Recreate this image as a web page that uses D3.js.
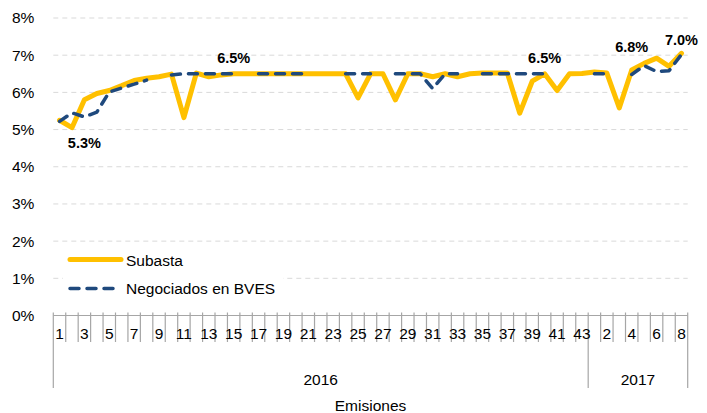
<!DOCTYPE html>
<html>
<head>
<meta charset="utf-8">
<script src="https://cdn.jsdelivr.net/npm/d3@7"></script>
<style>
  body { margin: 0; background: #fff; }
  text { font-family: "Liberation Sans", Arial, sans-serif; }
</style>
</head>
<body>
<svg width="707" height="413"></svg>
<script>
// categories: emission number within each year
const years = ['2016', '2017'];
const emisiones = [
  '1','2','3','4','5','6','7','8','9','10','11','12','13','14','15','16','17','18','19','20','21','22',
  '23','24','25','26','27','28','29','30','31','32','33','34','35','36','37','38','39','40','41','42','43',
  '1','2','3','4','5','6','7','8'
];
const yearOf = [
  0,0,0,0,0,0,0,0,0,0,0,0,0,0,0,0,0,0,0,0,0,0,0,0,0,0,0,0,0,0,0,0,0,0,0,0,0,0,0,0,0,0,0,
  1,1,1,1,1,1,1,1
];

// rates in %
const subasta = [
  5.25,5.05,5.8,5.97,6.05,6.18,6.32,6.38,6.42,6.49,
  5.32,6.52,6.42,6.47,6.5,6.5,6.5,6.5,6.5,6.5,
  6.5,6.5,6.5,6.5,5.85,6.5,6.5,5.8,6.5,6.5,
  6.42,6.5,6.42,6.5,6.52,6.52,6.52,5.44,6.3,6.5,
  6.05,6.5,6.51,6.55,6.52,5.58,6.6,6.78,6.92,6.7,
  7.05
];
const negociados = [
  5.22,5.45,5.34,5.47,6.01,6.12,6.22,6.33,null,6.47,
  6.5,6.5,6.5,6.5,6.5,null,6.5,6.5,6.5,6.5,
  6.5,null,null,6.5,6.5,6.5,null,6.5,6.5,6.5,
  6.1,6.5,6.5,null,6.5,6.5,6.5,6.5,6.5,6.5,
  null,null,null,6.5,6.5,null,6.48,6.72,6.56,6.58,
  7.02
];

// data labels: category index, value shown, above/below
const labelIdx = [2, 14, 39, 46, 50];
const labelVal = [5.3, 6.5, 6.5, 6.8, 7.0];
const labelPos = ['below', 'above', 'above', 'above', 'above'];

const yTicks = [0, 1, 2, 3, 4, 5, 6, 7, 8];

var svg = d3.select('svg');
var plotLeft = 53.3, plotRight = 687.7, plotTop = 18, plotBottom = 315.5;

var x = d3.scaleBand()
  .domain(d3.range(emisiones.length))
  .range([plotLeft, plotRight]);

var y = d3.scaleLinear()
  .domain([0, 8])
  .range([plotBottom, plotTop]);

var cx = function(i) { return x(i) + x.bandwidth() / 2; };

// gridlines
svg.append('g')
  .selectAll('line')
  .data(yTicks.filter(function(d) { return d > 0; }))
  .enter().append('line')
  .attr('x1', plotLeft).attr('x2', plotRight)
  .attr('y1', function(d) { return y(d); })
  .attr('y2', function(d) { return y(d); })
  .attr('stroke', '#d9d9d9')
  .attr('stroke-width', 1)
  .attr('stroke-dasharray', '5,4');

// y axis labels
svg.append('g')
  .attr('transform', 'translate(' + plotLeft + ',0)')
  .call(d3.axisLeft(y).tickValues(yTicks).tickSize(0).tickPadding(19)
    .tickFormat(function(d) { return d + '%'; }))
  .call(function(g) { g.select('.domain').remove(); })
  .selectAll('text')
  .attr('font-size', '15.5px')
  .attr('fill', '#000')
  .style('font-family', '"Liberation Sans", Arial, sans-serif');

// x axis line
var axisColor = '#a6a6a6';
svg.append('line')
  .attr('x1', plotLeft).attr('x2', plotRight)
  .attr('y1', plotBottom).attr('y2', plotBottom)
  .attr('stroke', axisColor).attr('stroke-width', 1.2);

// tick marks between categories
svg.append('g')
  .selectAll('line')
  .data(d3.range(emisiones.length + 1))
  .enter().append('line')
  .attr('x1', function(i) { return i < emisiones.length ? x(i) : plotRight; })
  .attr('x2', function(i) { return i < emisiones.length ? x(i) : plotRight; })
  .attr('y1', plotBottom - 3)
  .attr('y2', function(i) {
    var edge = i === 0 || i === emisiones.length || yearOf[i] !== yearOf[i - 1];
    return edge ? 388 : 342;
  })
  .attr('stroke', axisColor).attr('stroke-width', 1.2);

// category labels (every other one)
svg.append('g')
  .attr('transform', 'translate(0,' + plotBottom + ')')
  .call(d3.axisBottom(x)
    .tickValues(d3.range(0, emisiones.length, 2))
    .tickSize(0).tickPadding(12)
    .tickFormat(function(i) { return emisiones[i]; }))
  .call(function(g) { g.select('.domain').remove(); })
  .selectAll('text')
  .attr('font-size', '15.5px')
  .attr('fill', '#000')
  .style('font-family', '"Liberation Sans Narrow", "Arial Narrow", "Liberation Sans", Arial, sans-serif');

// year labels
years.forEach(function(yr, k) {
  var idx = d3.range(emisiones.length).filter(function(i) { return yearOf[i] === k; });
  var x0 = x(idx[0]), x1 = x(idx[idx.length - 1]) + x.bandwidth();
  svg.append('text')
    .attr('x', (x0 + x1) / 2).attr('y', 384.5)
    .attr('text-anchor', 'middle')
    .attr('font-size', '15.5px')
    .text(yr);
});

svg.append('text')
  .attr('x', (plotLeft + plotRight) / 2).attr('y', 410.5)
  .attr('text-anchor', 'middle')
  .attr('font-size', '15.5px')
  .text('Emisiones');

// lines
var line = d3.line()
  .defined(function(d) { return d != null; })
  .x(function(d, i) { return cx(i); })
  .y(function(d) { return y(d); });

svg.append('path')
  .datum(subasta)
  .attr('fill', 'none')
  .attr('stroke', '#ffc000')
  .attr('stroke-width', 5)
  .attr('stroke-linejoin', 'round')
  .attr('stroke-linecap', 'round')
  .attr('d', line);

svg.append('path')
  .datum(negociados)
  .attr('fill', 'none')
  .attr('stroke', '#1f497d')
  .attr('stroke-width', 3.5)
  .attr('stroke-linejoin', 'round')
  .attr('stroke-linecap', 'round')
  .attr('stroke-dasharray', '9,8')
  .attr('d', line);

// data labels
svg.append('g')
  .selectAll('text')
  .data(labelIdx)
  .enter().append('text')
  .attr('x', function(d) { return cx(d); })
  .attr('y', function(d, k) {
    return labelPos[k] === 'below' ? y(labelVal[k]) + 29.5 : y(labelVal[k]) - 10.5;
  })
  .attr('text-anchor', 'middle')
  .attr('font-size', '14.5px')
  .attr('font-weight', 'bold')
  .attr('fill', '#000')
  .text(function(d, k) { return labelVal[k].toFixed(1) + '%'; });

// legend
var legend = svg.append('g');
legend.append('rect')
  .attr('x', 63).attr('y', 246).attr('width', 220).attr('height', 54)
  .attr('fill', '#fff');
legend.append('line')
  .attr('x1', 70).attr('x2', 121).attr('y1', 259.5).attr('y2', 259.5)
  .attr('stroke', '#ffc000').attr('stroke-width', 5).attr('stroke-linecap', 'round');
legend.append('line')
  .attr('x1', 70).attr('x2', 115).attr('y1', 288.5).attr('y2', 288.5)
  .attr('stroke', '#1f497d').attr('stroke-width', 3.5).attr('stroke-linecap', 'round')
  .attr('stroke-dasharray', '9,8');
legend.append('text')
  .attr('x', 126).attr('y', 265.5).attr('font-size', '15.5px')
  .text('Subasta');
legend.append('text')
  .attr('x', 126).attr('y', 294).attr('font-size', '15.5px')
  .text('Negociados en BVES');
</script>
</body>
</html>
